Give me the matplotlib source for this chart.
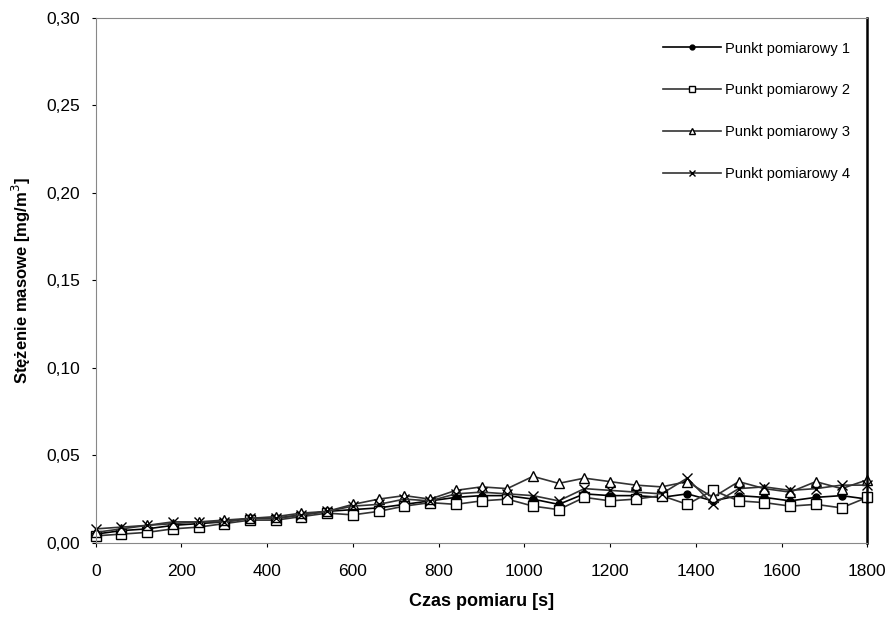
import matplotlib
matplotlib.use("Agg")
import matplotlib.pyplot as plt
from matplotlib.ticker import FuncFormatter, MultipleLocator

plt.rcParams['font.family'] = ['Liberation Sans', 'DejaVu Sans']

time_s = list(range(0, 1801, 60))
p1 = [0.005, 0.007, 0.008, 0.010, 0.011, 0.012, 0.014, 0.014, 0.016, 0.018,
      0.019, 0.020, 0.022, 0.024, 0.026, 0.027, 0.027, 0.025, 0.022, 0.028,
      0.027, 0.027, 0.026, 0.028, 0.024, 0.027, 0.026, 0.024, 0.026, 0.027, 0.025]
p2 = [0.004, 0.005, 0.006, 0.008, 0.009, 0.011, 0.013, 0.013, 0.015, 0.017,
      0.016, 0.018, 0.021, 0.023, 0.022, 0.024, 0.025, 0.021, 0.019, 0.026,
      0.024, 0.025, 0.027, 0.022, 0.030, 0.024, 0.023, 0.021, 0.022, 0.020, 0.026]
p3 = [0.006, 0.008, 0.010, 0.011, 0.012, 0.013, 0.014, 0.015, 0.017, 0.018,
      0.022, 0.025, 0.027, 0.025, 0.030, 0.032, 0.031, 0.038, 0.034, 0.037,
      0.035, 0.033, 0.032, 0.035, 0.026, 0.035, 0.031, 0.029, 0.035, 0.031, 0.036]
p4 = [0.008, 0.009, 0.010, 0.012, 0.012, 0.012, 0.014, 0.014, 0.016, 0.018,
      0.021, 0.022, 0.025, 0.024, 0.028, 0.029, 0.028, 0.027, 0.024, 0.031,
      0.030, 0.029, 0.028, 0.037, 0.022, 0.031, 0.032, 0.030, 0.031, 0.033, 0.033]
labels = ["Punkt pomiarowy 1", "Punkt pomiarowy 2", "Punkt pomiarowy 3", "Punkt pomiarowy 4"]

fig = plt.figure(figsize=(8.95, 6.19), dpi=100)
ax = fig.add_axes([0.107, 0.123, 0.862, 0.848])

kw = dict(lw=1.2, ms=7, clip_on=False)
ax.plot(time_s, p1, color='black', marker='o', label=labels[0], **{**kw, 'ms': 5})
ax.plot(time_s, p2, color='#333333', marker='s', mfc='white', mec='black', label=labels[1], **kw)
ax.plot(time_s, p3, color='#333333', marker='^', mfc='white', mec='black', label=labels[2], **kw)
ax.plot(time_s, p4, color='#333333', marker='x', mec='black', label=labels[3], **kw)

ax.set_xlim(0, 1800)
ax.set_ylim(0, 0.30)
ax.xaxis.set_major_locator(MultipleLocator(200))
ax.yaxis.set_major_locator(MultipleLocator(0.05))
ax.yaxis.set_major_formatter(FuncFormatter(lambda v, p: f"{v:.2f}".replace('.', ',')))
ax.tick_params(labelsize=12.5, length=3)
ax.tick_params(axis='x', pad=12)
ax.tick_params(axis='y', pad=8)
for side in ['left', 'bottom', 'top']:
    ax.spines[side].set_color('#888888')
    ax.spines[side].set_linewidth(0.8)
ax.spines['right'].set_color('black')
ax.spines['right'].set_linewidth(1.8)

ax.set_xlabel("Czas pomiaru [s]", fontsize=13, fontweight='bold', labelpad=10)
ax.set_ylabel("Stężenie masowe [mg/m$^3$]", fontsize=12, fontweight='bold', labelpad=10)

ax.legend(loc='upper right', frameon=False, fontsize=10.5, handlelength=4.0,
          labelspacing=1.9, handletextpad=0.3, markerscale=0.7,
          bbox_to_anchor=(0.995, 0.98))

fig.savefig("out.png", dpi=100)
